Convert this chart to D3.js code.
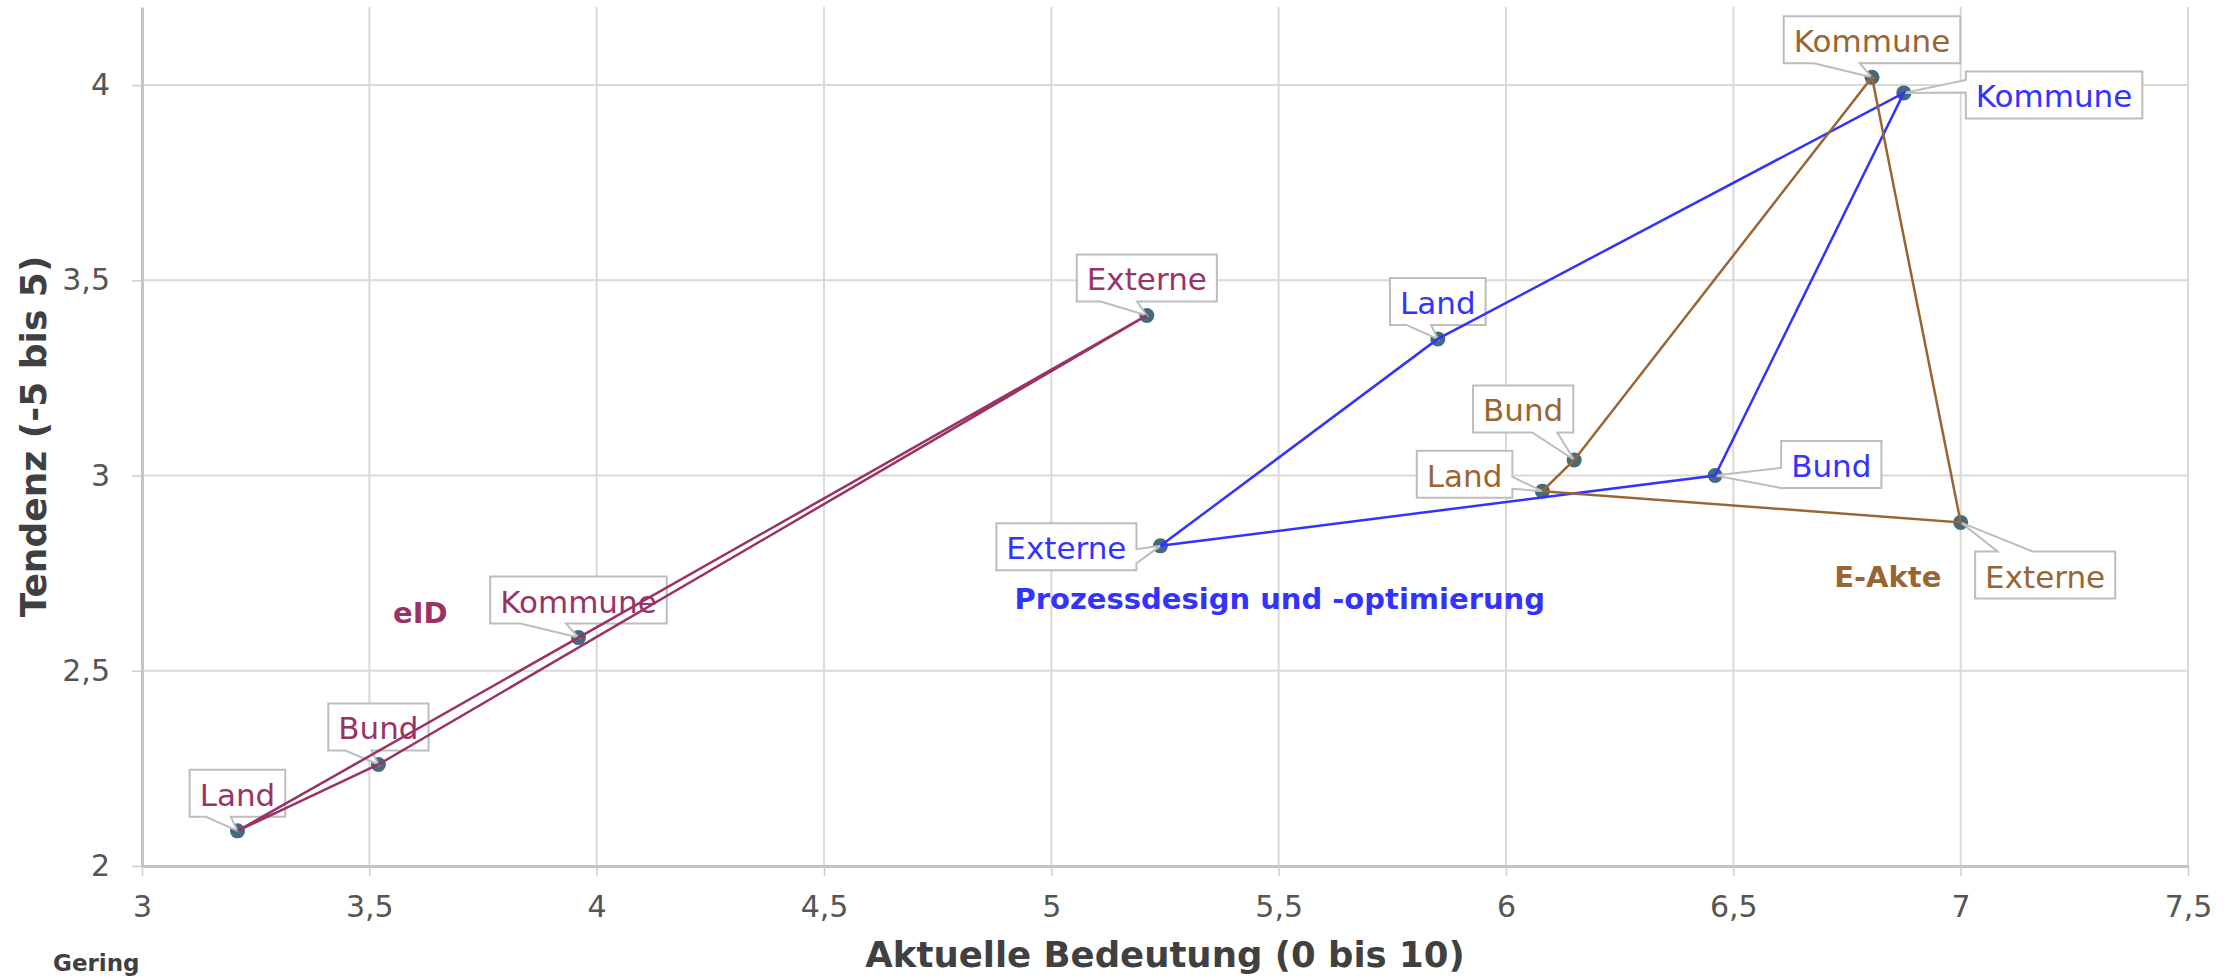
<!DOCTYPE html>
<html>
<head>
<meta charset="utf-8">
<script src="https://cdn.jsdelivr.net/npm/d3@7/dist/d3.min.js"></script>
<style>
  html, body { margin: 0; padding: 0; background: #ffffff; }
  svg { display: block; font-family: "DejaVu Sans", Verdana, sans-serif; }
</style>
</head>
<body>
<svg id="chart" width="2236" height="979"></svg>
<script>
// ---------------- data ----------------
const pointLabels   = ["Land", "Bund", "Kommune", "Externe"];
const seriesNames   = ["eID", "Prozessdesign und -optimierung", "E-Akte"];
const seriesColors  = ["#993366", "#3333ff", "#996633"];

const eidX     = [3.21, 3.52, 3.96, 5.21];
const eidY     = [2.09, 2.26, 2.585, 3.41];
const prozessX = [5.85, 6.46, 6.875, 5.24];
const prozessY = [3.35, 3.00, 3.98, 2.82];
const eakteX   = [6.08, 6.15, 6.805, 7.00];
const eakteY   = [2.96, 3.04, 4.02, 2.88];

// order in which the points of each series are joined (closed polygon)
const eidOrder     = [0, 1, 3, 2, 0];
const prozessOrder = [3, 0, 2, 1, 3];
const eakteOrder   = [0, 1, 2, 3, 0];

const xTicks = [3, 3.5, 4, 4.5, 5, 5.5, 6, 6.5, 7, 7.5];
const yTicks = [2, 2.5, 3, 3.5, 4];
const xDomain = [3, 7.5];
const yDomain = [2, 4.2];

const xTitle = "Aktuelle Bedeutung (0 bis 10)";
const yTitle = "Tendenz (-5 bis 5)";
const cornerNote = "Gering";

// ---------------- layout (not data) ----------------
const seriesXs = [eidX, prozessX, eakteX];
const seriesYs = [eidY, prozessY, eakteY];
const seriesOrders = [eidOrder, prozessOrder, eakteOrder];

const std = { side: "bottom", dx: 0, dy: -37.5, base: [0.17, 0.43] };
const calloutLayout = [
  [std, std, std, std],
  [std,
   { side: "left",  gap: 66, dy: -11, base: [0.57, 1.0] },
   { side: "left",  gap: 62, dy: 2,   base: [0.18, 0.45] },
   { side: "right", gap: 24, dy: 1,   base: [0.55, 0.85] }],
  [{ side: "right", gap: 30, dy: -17, base: [0.56, 0.81] },
   { side: "bottom", dx: -51, dy: -51, base: [0.59, 0.84] },
   std,
   { side: "top", dx: 84.5, dy: 52.6, base: [0.16, 0.41] }]
];
// series name positions in value units (start anchor, baseline)
const seriesLabelPos = [[3.552, 2.622], [4.919, 2.658], [6.722, 2.714]];

const W = 2236, H = 979;
const plot = { left: 142, right: 2188, top: 7, bottom: 866 };

const svg = d3.select("#chart");
const x = d3.scaleLinear().domain(xDomain).range([plot.left, plot.right]);
const y = d3.scaleLinear().domain(yDomain).range([plot.bottom, plot.top]);
const fmt = d => String(d).replace(".", ",");

// grid
const grid = svg.append("g");
grid.selectAll("line.vg").data(xTicks.filter(t => t !== xDomain[0])).join("line")
  .attr("x1", d => x(d)).attr("x2", d => x(d))
  .attr("y1", plot.top).attr("y2", plot.bottom)
  .attr("stroke", "#d9d9d9").attr("stroke-width", 2);
grid.selectAll("line.hg").data(yTicks.filter(t => t !== yDomain[0])).join("line")
  .attr("x1", plot.left).attr("x2", plot.right)
  .attr("y1", d => y(d)).attr("y2", d => y(d))
  .attr("stroke", "#d9d9d9").attr("stroke-width", 2);

// axes
const xAxis = d3.axisBottom(x).tickValues(xTicks).tickFormat(fmt).tickSizeInner(10).tickSizeOuter(0).tickPadding(20);
const gx = svg.append("g").attr("transform", `translate(0,${plot.bottom})`).call(xAxis);
gx.select(".domain").attr("stroke", "#c4c4c4").attr("stroke-width", 3);
gx.selectAll(".tick line").attr("stroke", "#cccccc").attr("stroke-width", 1.5);
gx.selectAll(".tick text").attr("font-size", 30).attr("fill", "#555555")
  .attr("font-family", "DejaVu Sans");

const yAxis = d3.axisLeft(y).tickValues(yTicks).tickFormat(fmt).tickSizeInner(10).tickSizeOuter(0).tickPadding(22);
const gy = svg.append("g").attr("transform", `translate(${plot.left},0)`).call(yAxis);
gy.select(".domain").attr("stroke", "#c4c4c4").attr("stroke-width", 3);
gy.selectAll(".tick line").attr("stroke", "#cccccc").attr("stroke-width", 1.5);
gy.selectAll(".tick text").attr("font-size", 30).attr("fill", "#555555")
  .attr("font-family", "DejaVu Sans");

// axis titles
svg.append("text").attr("x", (plot.left + plot.right) / 2).attr("y", 967)
  .attr("text-anchor", "middle").attr("font-weight", "bold").attr("font-size", 35.5)
  .attr("fill", "#404040").text(xTitle);
svg.append("text").attr("transform", `translate(46,${(plot.top + plot.bottom) / 2}) rotate(-90)`)
  .attr("text-anchor", "middle").attr("font-weight", "bold").attr("font-size", 36)
  .attr("fill", "#404040").text(yTitle);
svg.append("text").attr("x", 53).attr("y", 971)
  .attr("font-weight", "bold").attr("font-size", 23).attr("fill", "#404040").text(cornerNote);

// build series
const series = seriesNames.map((name, s) => ({
  name, color: seriesColors[s],
  points: pointLabels.map((lab, i) => ({ lab, vx: seriesXs[s][i], vy: seriesYs[s][i], layout: calloutLayout[s][i] })),
  order: seriesOrders[s]
}));

// markers
const gm = svg.append("g");
series.forEach(sr => {
  gm.selectAll(null).data(sr.points).join("circle")
    .attr("cx", d => x(d.vx)).attr("cy", d => y(d.vy)).attr("r", 7.5)
    .attr("fill", "#436a7f");
});

// callouts
const gc = svg.append("g");
const PAD = 10, BH = 47, FS = 31;
series.forEach(sr => {
  sr.points.forEach(p => {
    const px = x(p.vx), py = y(p.vy);
    const g = gc.append("g");
    const t = g.append("text").attr("font-size", FS).attr("fill", sr.color).text(p.lab);
    const tw = t.node().getComputedTextLength();
    const w = tw + 2 * PAD, h = BH;
    const L = p.layout;
    let cx, cy;
    if (L.side === "left") { cx = px + L.gap + w / 2; cy = py + L.dy; }
    else if (L.side === "right") { cx = px - L.gap - w / 2; cy = py + L.dy; }
    else { cx = px + L.dx; cy = py + L.dy; }
    const x0 = cx - w / 2, x1 = cx + w / 2, y0 = cy - h / 2, y1 = cy + h / 2;
    let path;
    if (L.side === "bottom") {
      path = `M${x0},${y0}H${x1}V${y1}H${x0 + L.base[1] * w}L${px},${py}L${x0 + L.base[0] * w},${y1}H${x0}Z`;
    } else if (L.side === "top") {
      path = `M${x0},${y0}H${x0 + L.base[0] * w}L${px},${py}L${x0 + L.base[1] * w},${y0}H${x1}V${y1}H${x0}Z`;
    } else if (L.side === "left") {
      path = `M${x0},${y0}H${x1}V${y1}H${x0}V${y0 + L.base[1] * h}L${px},${py}L${x0},${y0 + L.base[0] * h}Z`;
    } else {
      path = `M${x0},${y0}H${x1}V${y0 + L.base[0] * h}L${px},${py}L${x1},${y0 + L.base[1] * h}V${y1}H${x0}Z`;
    }
    g.insert("path", "text").attr("d", path).attr("fill", "#ffffff")
      .attr("stroke", "#bdbdbd").attr("stroke-width", 2).attr("stroke-linejoin", "miter");
    t.attr("x", cx).attr("y", y0 + 36).attr("text-anchor", "middle");
  });
});

// lines
const gl = svg.append("g");
const lineGen = d3.line().x(d => x(d.vx)).y(d => y(d.vy));
series.forEach(sr => {
  gl.append("path").attr("d", lineGen(sr.order.map(i => sr.points[i])))
    .attr("fill", "none").attr("stroke", sr.color).attr("stroke-width", 2.5)
    .attr("stroke-linejoin", "miter");
});

// series names
series.forEach((sr, s) => {
  svg.append("text").attr("x", x(seriesLabelPos[s][0])).attr("y", y(seriesLabelPos[s][1]))
    .attr("font-weight", "bold").attr("font-size", 29).attr("fill", sr.color).text(sr.name);
});
</script>
</body>
</html>
